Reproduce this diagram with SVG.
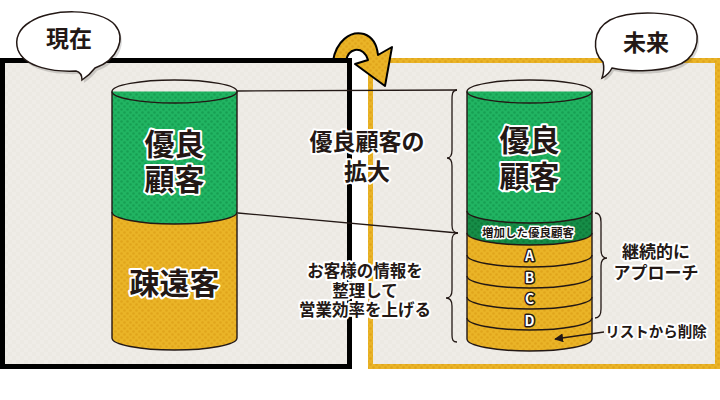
<svg xmlns="http://www.w3.org/2000/svg" width="720" height="400" viewBox="0 0 720 400">
<defs>
<pattern id="pG" width="6" height="6" patternUnits="userSpaceOnUse"><rect width="6" height="6" fill="#21b462"/><circle cx="1.5" cy="1.5" r="1.3" fill="#169f52"/><circle cx="4.5" cy="4.5" r="1.3" fill="#169f52"/></pattern>
<pattern id="pD" width="6" height="6" patternUnits="userSpaceOnUse"><rect width="6" height="6" fill="#168d47"/><circle cx="1.5" cy="1.5" r="1.3" fill="#0e7a3a"/><circle cx="4.5" cy="4.5" r="1.3" fill="#0e7a3a"/></pattern>
<pattern id="pY" width="6" height="6" patternUnits="userSpaceOnUse"><rect width="6" height="6" fill="#eab427"/><circle cx="1.5" cy="1.5" r="1.3" fill="#e0a51b"/><circle cx="4.5" cy="4.5" r="1.3" fill="#e0a51b"/></pattern>
<pattern id="pB" width="8" height="8" patternUnits="userSpaceOnUse"><rect width="8" height="8" fill="#efece7"/><rect x="0" y="0" width="4" height="4" fill="#ece9e3"/><rect x="4" y="4" width="4" height="4" fill="#ece9e3"/></pattern>
<marker id="ah" viewBox="0 0 10 10" refX="9" refY="5" markerWidth="9" markerHeight="9" orient="auto-start-reverse" markerUnits="userSpaceOnUse"><path d="M0 0 L10 5 L0 10 Z" fill="#231815"/></marker>
</defs>
<style>
.t{font-family:"Noto Sans CJK JP","Noto Sans",sans-serif;font-weight:bold;fill:#231815;stroke:#fff;stroke-linejoin:round;paint-order:stroke;text-anchor:middle}
.w{font-family:"Noto Sans CJK JP","Noto Sans",sans-serif;font-weight:bold;fill:#fff;stroke:#231815;stroke-width:3;stroke-linejoin:round;paint-order:stroke;text-anchor:middle;font-size:14px}
.ln{fill:none;stroke:#231815;stroke-width:1.3}
.ol{fill:none;stroke:#231815;stroke-width:1.4}
.bub{fill:#fff;stroke:#231815;stroke-width:1.5}
.sh{fill:#000;opacity:0.15}
</style>
<rect width="720" height="400" fill="#fff"/>

<g id="box-current">
<rect x="2.5" y="60.5" width="347" height="306" fill="url(#pB)" stroke="#000" stroke-width="5"/>
</g>
<g id="box-future">
<rect x="370.5" y="60.5" width="347" height="306" fill="url(#pB)" stroke="url(#pY)" stroke-width="5"/>
</g>

<g id="arrow-curve">
<path d="M333 61 C336 42 350 30 364 34 C373 37 377 46 378 55 L392 47 L385 86 L355 64 L368 60 C366 53 361 49 355 50 C350 51 347 55 346 61 Z" fill="url(#pY)" stroke="#000" stroke-width="2" stroke-linejoin="round"/>
<rect x="330" y="58" width="22" height="5" fill="#000"/>
<rect x="347" y="58" width="5" height="30" fill="#000"/>
</g>

<g id="bubble-current">
<path class="sh" d="M32 25 C52 11 102 11 117 28 C128 41 120 63 97 71 C94 75 90 79 84 83 C84 79 82 75 78 74 C57 75 27 71 20 53 C16 41 22 31 32 25 Z"/>
<path class="bub" d="M30 22 C50 8 100 8 115 25 C126 38 118 60 95 68 C92 72 88 76 82 80 C82 76 80 72 76 71 C55 72 25 68 18 50 C14 38 20 28 30 22 Z"/>
<text class="t" x="69" y="47" font-size="23" stroke-width="0">現在</text>
</g>

<g id="bubble-future">
<path class="sh" d="M612 23 C632 13 682 13 695 28 C704 41 698 63 677 69 C657 75 632 75 614 71 C612 75 608 79 604 81 C606 75 606 69 605 65 C594 55 594 33 612 23 Z"/>
<path class="bub" d="M610 20 C630 10 680 10 693 25 C702 38 696 60 675 66 C655 72 630 72 612 68 C610 72 606 76 602 78 C604 72 604 66 603 62 C592 52 592 30 610 20 Z"/>
<text class="t" x="646" y="51" font-size="23" stroke-width="0">未来</text>
</g>

<g id="cyl-current">
<path d="M112 212 L112 338 A62.5 12 0 0 0 237 338 L237 212 Z" fill="url(#pY)"/>
<path d="M112 91.5 L112 212 A62.5 12 0 0 0 237 212 L237 91.5 Z" fill="url(#pG)"/>
<ellipse cx="174.5" cy="91.5" rx="62.5" ry="11.5" fill="url(#pG)" class="ol"/>
<path class="ol" d="M112 91.5 L112 338 A62.5 12 0 0 0 237 338 L237 91.5"/>
<path class="ol" d="M112 212 A62.5 12 0 0 0 237 212"/>
<text class="t" x="174.5" y="155" font-size="30" stroke-width="4">優良</text>
<text class="t" x="174.5" y="190" font-size="30" stroke-width="4">顧客</text>
<text class="t" x="174.5" y="294" font-size="30" stroke-width="4">疎遠客</text>
</g>

<g id="cyl-future">
<path d="M467 233 L467 339 A62.5 12 0 0 0 592 339 L592 233 Z" fill="url(#pY)"/>
<path d="M467 211 L467 233 A62.5 12 0 0 0 592 233 L592 211 Z" fill="url(#pD)"/>
<path d="M467 91.5 L467 211 A62.5 12 0 0 0 592 211 L592 91.5 Z" fill="url(#pG)"/>
<ellipse cx="529.5" cy="91.5" rx="62.5" ry="11.5" fill="url(#pG)" class="ol"/>
<path class="ol" d="M467 91.5 L467 339 A62.5 12 0 0 0 592 339 L592 91.5"/>
<path class="ol" d="M467 211 A62.5 12 0 0 0 592 211"/>
<path class="ol" d="M467 233 A62.5 12 0 0 0 592 233"/>
<path class="ol" d="M467 255 A62.5 12 0 0 0 592 255"/>
<path class="ol" d="M467 276 A62.5 12 0 0 0 592 276"/>
<path class="ol" d="M467 297 A62.5 12 0 0 0 592 297"/>
<path class="ol" d="M467 318 A62.5 12 0 0 0 592 318"/>
<text class="t" x="529.5" y="151" font-size="30" stroke-width="4">優良</text>
<text class="t" x="529.5" y="187" font-size="30" stroke-width="4">顧客</text>
<text class="t" x="528" y="237" font-size="11.5" stroke-width="3">増加した優良顧客</text>
<text class="w" x="529.5" y="261">A</text>
<text class="w" x="529.5" y="283">B</text>
<text class="w" x="529.5" y="304">C</text>
<text class="w" x="529.5" y="326">D</text>
</g>

<g id="connectors">
<path class="ln" d="M237 91 L457 90"/>
<path class="ln" d="M238 213 L458 233"/>
<path class="ln" d="M457 90 C452 90 452 95 452 100 L452 150 C452 155 450 158 447 158 C450 158 452 161 452 166 L452 225 C452 230 453 233 458 233 C453 233 452 236 452 241 L452 290 C452 295 450 298 446 298 C450 298 452 301 452 306 L452 335 C452 340 453 342 457 342"/>
<path class="ln" d="M595 213 C600 213 601 217 601 222 L601 250 C601 255 603 258 607 258 C603 258 601 261 601 266 L601 309 C601 314 600 318 595 318"/>
<path class="ln" d="M604 332 L555 339" marker-end="url(#ah)"/>
</g>

<g id="labels">
<text class="t" x="367" y="150" font-size="23" stroke-width="4">優良顧客の</text>
<text class="t" x="367" y="180" font-size="23" stroke-width="4">拡大</text>
<text class="t" x="365" y="277" font-size="16.5" stroke-width="4">お客様の情報を</text>
<text class="t" x="365" y="296.5" font-size="16.5" stroke-width="4">整理して</text>
<text class="t" x="365" y="316" font-size="16.5" stroke-width="4">営業効率を上げる</text>
<text class="t" x="656" y="258" font-size="17" stroke-width="4">継続的に</text>
<text class="t" x="656" y="278.5" font-size="17" stroke-width="4">アプローチ</text>
<text class="t" x="656" y="337" font-size="14.5" stroke-width="4">リストから削除</text>
</g>
</svg>
